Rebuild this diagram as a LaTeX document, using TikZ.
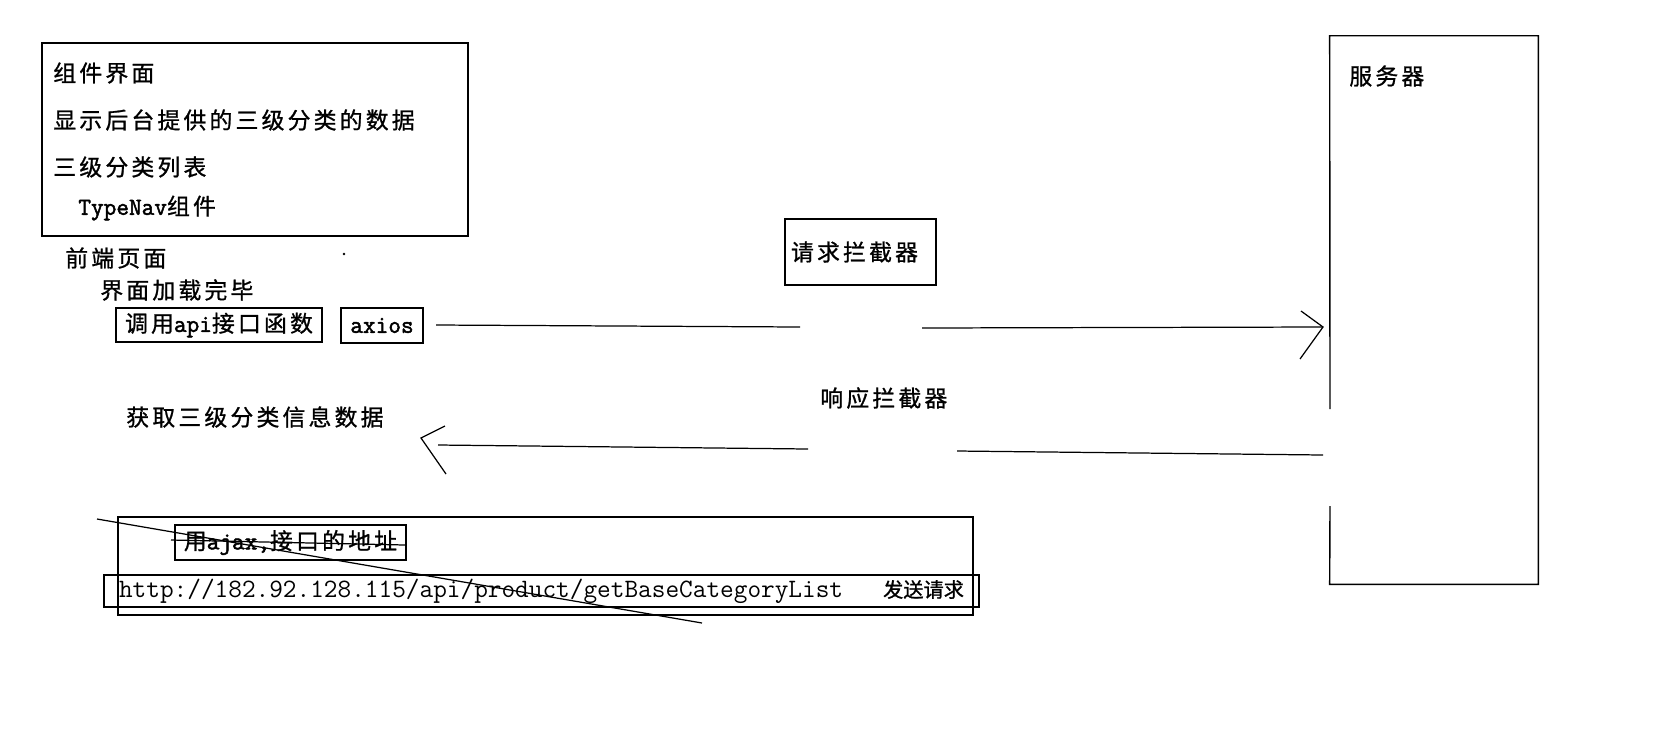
\documentclass[tikz,border=0pt]{standalone}
\usepackage{fontspec}
\setmainfont{Noto Sans CJK SC}[LetterSpace=14, FakeBold=1]
\newfontfamily\cjkplain{Noto Sans CJK SC}[FakeBold=1]
\newfontfamily\latfnt{Latin Modern Mono}[FakeBold=2]
\newcommand{\lat}[1]{{\latfnt\fontsize{14}{16}\selectfont #1}}
\tikzset{
  box/.style = {draw, line width=0.8pt, inner sep=0pt},
  txt/.style = {anchor=west, inner sep=0pt},
  wire/.style = {line width=0.7pt},
}

\begin{document}
\begin{tikzpicture}[x=0.02cm, y=-0.02cm, font=\fontsize{13}{15}\selectfont]
        \useasboundingbox (0,0) rectangle (1653,728);

        % component page
        \node (compbox)[box, minimum width=8.52cm, minimum height=3.86cm] at ( 255,139.5) {};
        \node (comp_title)[txt] at ( 53,73) {组件界面};
        \node (comp_show)[txt] at ( 53,120) {显示后台提供的三级分类的数据};
        \node (comp_list)[txt] at ( 53,167) {三级分类列表};
        \node (comp_nav)[txt] at ( 78,208) {\lat{TypeNav}组件};

        \node (front)[txt] at ( 65,258) {前端页面};
        \node (dot)[circle, fill, inner sep=0pt, minimum size=1.5pt] at ( 344,254) {};
        \node (loaded)[txt] at ( 100,290) {界面加载完毕};
        \node (callbox)[box, minimum width=4.12cm, minimum height=0.68cm] at ( 219,325) {调用\lat{api}接口函数};
        \node (axiosbox)[box, minimum width=1.64cm, minimum height=0.70cm] at ( 382,325.5) {\lat{axios}};
        \node (gotdata)[txt] at ( 126,417) {获取三级分类信息数据};

        % interceptors
        \node (reqbox)[box, text width=2.78cm, inner xsep=0.12cm, minimum height=1.32cm, align=left] at ( 860.5,252) {请求拦截器};
        \node (resp)[txt] at ( 820,398) {响应拦截器};

        % server
        \node (srvbox)[inner sep=0pt, minimum width=4.16cm, minimum height=10.96cm] at ( 1434,310) {};
        \node (srv)[txt] at ( 1349,76) {服务器};
        \coordinate (gaptop) at ( 1330,409);
        \coordinate (gapbot) at ( 1330,506);
        \draw[line width=0.8pt] (gaptop) -- (srvbox.north west) -- (srvbox.north east)
            -- (srvbox.south east) -- (srvbox.south west) -- (gapbot);

        % request line
        \coordinate (req1) at ( 436,325);
        \coordinate (req2) at ( 800,327);
        \coordinate (req3) at ( 922,328);
        \coordinate (req4) at ( 1323,327);
        \path (req1) edge[wire] (req2);
        \path (req3) edge[wire] (req4);
        \draw[wire] (req4) ++(-22,-16) -- (req4) -- ++(-23,32);

        % response line
        \coordinate (resp1) at ( 1323,455);
        \coordinate (resp2) at ( 957,451);
        \coordinate (resp3) at ( 808,449);
        \coordinate (resp4) at ( 438,445);
        \coordinate (resptip) at ( 421,438);
        \path (resp1) edge[wire] (resp2);
        \path (resp3) edge[wire] (resp4);
        \draw[wire] (resptip) ++(24,-12) -- (resptip) -- ++(25,36);

        % old way, crossed out
        \node (outbox)[box, minimum width=17.1cm, minimum height=1.96cm] at ( 545.5,566) {};
        \node (ajaxbox)[box, minimum width=4.62cm, minimum height=0.70cm] at ( 290.5,542.5) {用\lat{ajax,}接口的地址};
        \node (urlbox)[box, minimum width=17.5cm, minimum height=0.64cm] at ( 541.5,591)
            {{\ttfamily\fontsize{15.1}{17}\selectfont http://182.92.128.115/api/product/getBaseCategoryList}\hspace{0.8cm}{\cjkplain\fontsize{11.5}{13}\selectfont 发送请求}};
        \draw[wire] (171,540) -- (405,545);
        \draw[wire] (97,519) -- (702,623);
    \end{tikzpicture}
\end{document}
